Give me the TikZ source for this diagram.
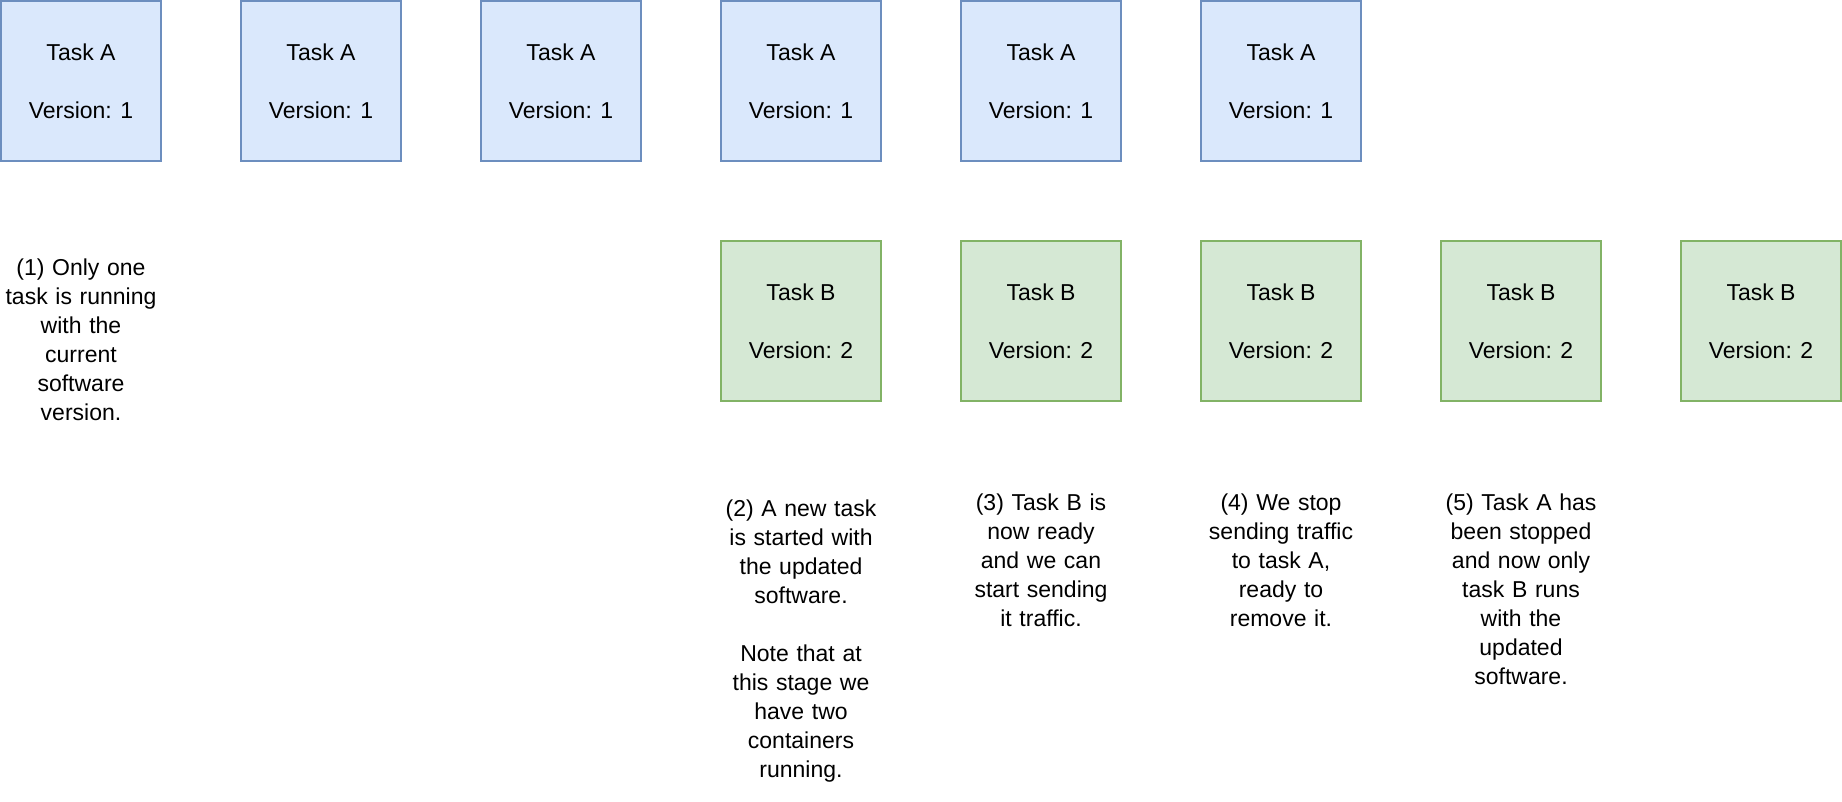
\documentclass[tikz,border=0pt]{standalone}
\usepackage{fontspec}
\setmainfont{Liberation Sans}
\begin{document}
\begin{tikzpicture}[x=1pt,y=-1pt,
  every node/.style={font=\fontsize{23}{29}\selectfont, align=center, inner sep=0pt},
  taskbox/.style={draw, line width=2pt, minimum width=160pt, minimum height=160pt},
  boxA/.style={taskbox, fill={rgb,255:red,218;green,232;blue,252}, draw={rgb,255:red,108;green,142;blue,191}},
  boxB/.style={taskbox, fill={rgb,255:red,213;green,232;blue,212}, draw={rgb,255:red,130;green,179;blue,102}},
  note/.style={text width=170pt}]
\useasboundingbox (0,0) rectangle (1842,802);
\foreach \i in {0,...,5} {
  \node[boxA] (a\i) at (81+240*\i,81) {Task A\\[29pt]Version: 1};
}
\foreach \i in {3,...,7} {
  \node[boxB] (b\i) at (81+240*\i,321) {Task B\\[29pt]Version: 2};
}
\node[note] (n1) at (81,340) {(1) Only one\\task is running\\with the\\current\\software\\version.};
\node[note] (n2) at (801,641) {(2) A new task\\is started with\\the updated\\software.\\[29pt]Note that at\\this stage we\\have two\\containers\\running.};
\node[note] (n3) at (1041,560) {(3) Task B is\\now ready\\and we can\\start sending\\it traffic.};
\node[note] (n4) at (1281,560) {(4) We stop\\sending traffic\\to task A,\\ready to\\remove it.};
\node[note] (n5) at (1521,589) {(5) Task A has\\been stopped\\and now only\\task B runs\\with the\\updated\\software.};
\end{tikzpicture}
\end{document}
